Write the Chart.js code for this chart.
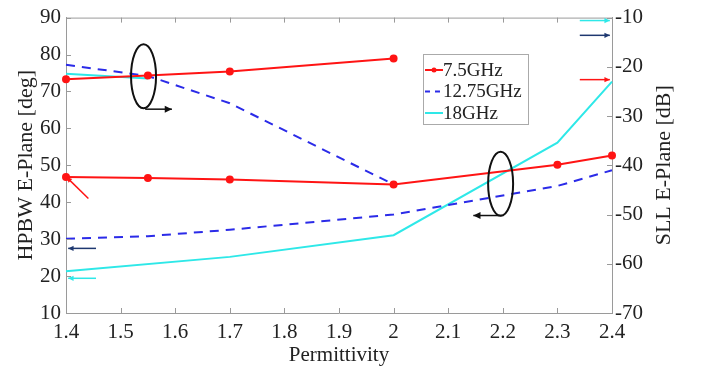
<!DOCTYPE html>
<html>
<head>
<meta charset="utf-8">
<script src="https://cdn.jsdelivr.net/npm/chart.js@4/dist/chart.umd.min.js"></script>
<style>
  html, body { margin: 0; padding: 0; background: #fff; }
  canvas { display: block; }
</style>
</head>
<body>
<canvas id="chart" width="701" height="372"></canvas>
<script>
// HPBW (left axis, deg) and SLL (right axis, dB) vs permittivity
const permHpbw = [1.4, 1.55, 1.7, 2.0];
const hpbw75 = [73.3, 74.3, 75.4, 78.9];
const hpbw1275 = [77.2, 74.2, 66.8, 44.8];
const perm18Hpbw = [1.4, 1.55];
const hpbw18 = [74.8, 73.5];

const permSll = [1.4, 1.55, 1.7, 2.0, 2.3, 2.4];
const sll75 = [-42.4, -42.6, -42.9, -43.9, -39.9, -38.0];
const sll1275 = [-54.9, -54.4, -53.1, -50.0, -44.2, -41.0];
const perm18Sll = [1.4, 1.7, 2.0, 2.3, 2.4];
const sll18 = [-61.5, -58.6, -54.2, -35.4, -23.0];

const seriesNames = ["7.5GHz", "12.75GHz", "18GHz"];
const xRange = [1.4, 2.4];
const hpbwRange = [10, 90];
const sllRange = [-70, -10];

const RED = "#ff1414";
const BLUE = "#2b2be8";
const CYAN = "#2ee8e8";
const NAVY = "#1e3870";
const AXIS = "#9a9a9a";
const FONT = "'Liberation Serif', 'Times New Roman', serif";

const pts = (xs, ys) => xs.map((x, i) => ({ x, y: ys[i] }));

function line(label, data, color, axis, opts) {
  return Object.assign({
    label, data, yAxisID: axis,
    borderColor: color, backgroundColor: color,
    borderWidth: 2, pointRadius: 0, tension: 0, clip: false,
  }, opts || {});
}

// annotation arrows / ellipses in data units (x, left axis)
const ellipses = [
  { x: 1.542, y: 74.1, arrow: [1.545, 65.2, 1.594, 65.2] },
  { x: 2.196, y: 45.0, arrow: [2.198, 36.4, 2.146, 36.4] },
];
const pointers = [
  { from: [1.441, 41.0], to: [1.401, 46.8], color: RED },
  { from: [1.455, 27.5], to: [1.404, 27.5], color: NAVY },
  { from: [1.455, 19.4], to: [1.404, 19.4], color: CYAN },
  { from: [2.341, 89.2], to: [2.396, 89.2], color: CYAN },
  { from: [2.341, 85.2], to: [2.396, 85.2], color: NAVY },
  { from: [2.341, 73.2], to: [2.396, 73.2], color: RED },
];

function drawArrow(ctx, x1, y1, x2, y2, color, head) {
  ctx.strokeStyle = color; ctx.fillStyle = color; ctx.lineWidth = 1.5;
  ctx.beginPath(); ctx.moveTo(x1, y1); ctx.lineTo(x2, y2); ctx.stroke();
  const a = Math.atan2(y2 - y1, x2 - x1);
  ctx.beginPath();
  ctx.moveTo(x2, y2);
  ctx.lineTo(x2 - head * Math.cos(a - 0.45), y2 - head * Math.sin(a - 0.45));
  ctx.lineTo(x2 - head * Math.cos(a + 0.45), y2 - head * Math.sin(a + 0.45));
  ctx.closePath(); ctx.fill();
}

const extras = {
  id: "extras",
  afterDraw(chart) {
    const { ctx, chartArea: a, scales: { x, y, y2 } } = chart;
    ctx.save();
    // top border + inward ticks
    ctx.strokeStyle = AXIS; ctx.lineWidth = 1;
    ctx.beginPath(); ctx.moveTo(a.left, a.top + 0.5); ctx.lineTo(a.right, a.top + 0.5); ctx.stroke();
    ctx.beginPath();
    x.ticks.forEach(t => {
      const px = Math.round(x.getPixelForValue(t.value)) + 0.5;
      ctx.moveTo(px, a.bottom); ctx.lineTo(px, a.bottom - 5);
      ctx.moveTo(px, a.top); ctx.lineTo(px, a.top + 5);
    });
    y.ticks.forEach(t => {
      const py = Math.round(y.getPixelForValue(t.value)) + 0.5;
      ctx.moveTo(a.left, py); ctx.lineTo(a.left + 5, py);
    });
    y2.ticks.forEach(t => {
      const py = Math.round(y2.getPixelForValue(t.value)) + 0.5;
      ctx.moveTo(a.right, py); ctx.lineTo(a.right - 5, py);
    });
    ctx.stroke();

    // right axis title, reading bottom to top
    ctx.fillStyle = "#222"; ctx.font = "22px " + FONT;
    ctx.textAlign = "center"; ctx.textBaseline = "middle";
    ctx.translate(664, (a.top + a.bottom) / 2);
    ctx.rotate(-Math.PI / 2);
    ctx.fillText("SLL E-Plane [dB]", 0, 0);
    ctx.restore();

    ctx.save();
    // ellipses with axis arrows
    ellipses.forEach(e => {
      const cx = x.getPixelForValue(e.x), cy = y.getPixelForValue(e.y);
      ctx.strokeStyle = "#111"; ctx.lineWidth = 2;
      ctx.beginPath(); ctx.ellipse(cx, cy, 12.5, 32, 0, 0, Math.PI * 2); ctx.stroke();
      const [x1, y1, x2, y2v] = e.arrow;
      drawArrow(ctx, x.getPixelForValue(x1), y.getPixelForValue(y1),
        x.getPixelForValue(x2), y.getPixelForValue(y2v), "#111", 8);
    });
    pointers.forEach(p => {
      drawArrow(ctx, x.getPixelForValue(p.from[0]), y.getPixelForValue(p.from[1]),
        x.getPixelForValue(p.to[0]), y.getPixelForValue(p.to[1]), p.color, 6);
    });

    // legend box
    const lx = 423, ly = 54, lw = 105, lh = 70;
    ctx.fillStyle = "#fff"; ctx.fillRect(lx, ly, lw, lh);
    ctx.strokeStyle = "#aaa"; ctx.lineWidth = 1;
    ctx.strokeRect(lx + 0.5, ly + 0.5, lw, lh);
    const colors = [RED, BLUE, CYAN];
    ctx.font = "19px " + FONT; ctx.textAlign = "left"; ctx.textBaseline = "middle";
    seriesNames.forEach((name, i) => {
      const ry = ly + 16 + i * 21.5;
      ctx.strokeStyle = colors[i]; ctx.lineWidth = 2;
      ctx.setLineDash(i === 1 ? [5, 5] : []);
      ctx.beginPath(); ctx.moveTo(lx + 2, ry); ctx.lineTo(lx + 20, ry); ctx.stroke();
      ctx.setLineDash([]);
      if (i === 0) {
        ctx.fillStyle = RED; ctx.beginPath(); ctx.arc(lx + 11, ry, 2.5, 0, Math.PI * 2); ctx.fill();
      }
      ctx.fillStyle = "#222";
      ctx.fillText(name, lx + 20, ry + 1);
    });
    ctx.restore();
  },
};

const tickFont = { family: FONT, size: 21 };

new Chart(document.getElementById("chart"), {
  type: "line",
  data: {
    datasets: [
      line("7.5GHz", pts(permHpbw, hpbw75), RED, "y", { pointRadius: 3 }),
      line("12.75GHz", pts(permHpbw, hpbw1275), BLUE, "y", { borderDash: [9, 7] }),
      line("18GHz", pts(perm18Hpbw, hpbw18), CYAN, "y"),
      line("7.5GHz SLL", pts(permSll, sll75), RED, "y2", { pointRadius: 3 }),
      line("12.75GHz SLL", pts(permSll, sll1275), BLUE, "y2", { borderDash: [9, 7] }),
      line("18GHz SLL", pts(perm18Sll, sll18), CYAN, "y2"),
    ],
  },
  options: {
    responsive: false,
    animation: false,
    devicePixelRatio: 1,
    layout: { padding: { top: 13, left: 0, right: 0, bottom: 0 } },
    plugins: { legend: { display: false }, tooltip: { enabled: false } },
    scales: {
      x: {
        type: "linear", min: xRange[0], max: xRange[1],
        grid: { drawOnChartArea: false, drawTicks: false },
        border: { color: AXIS },
        ticks: {
          stepSize: 0.1, padding: 7, color: "#222", font: tickFont,
          callback: v => String(+Number(v).toFixed(1)),
        },
        title: { display: true, text: "Permittivity", color: "#222",
          font: { family: FONT, size: 21 }, padding: { top: 0, bottom: 4 } },
        afterFit: s => { s.height = 59; },
      },
      y: {
        position: "left", min: hpbwRange[0], max: hpbwRange[1],
        grid: { drawOnChartArea: false, drawTicks: false },
        border: { color: AXIS },
        ticks: { stepSize: 10, padding: 5, color: "#222", font: tickFont },
        title: { display: true, text: "HPBW E-Plane [deg]", color: "#222",
          font: { family: FONT, size: 22 }, padding: { top: 13, bottom: 0 } },
        afterFit: s => { s.width = 66; },
      },
      y2: {
        position: "right", min: sllRange[0], max: sllRange[1],
        grid: { drawOnChartArea: false, drawTicks: false },
        border: { color: AXIS },
        ticks: { stepSize: 10, padding: 3, color: "#222", font: tickFont },
        afterFit: s => { s.width = 89; },
      },
    },
  },
  plugins: [extras],
});
</script>
</body>
</html>
